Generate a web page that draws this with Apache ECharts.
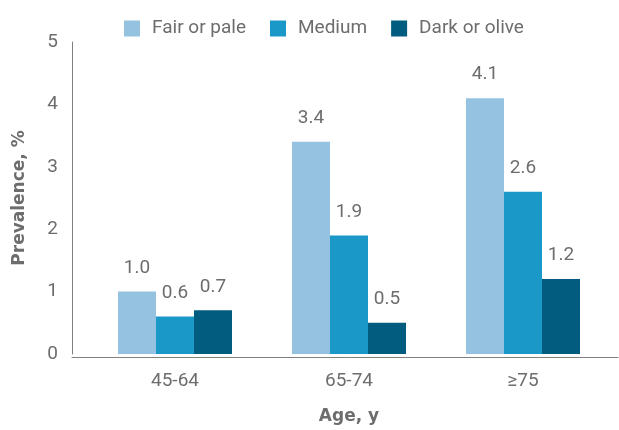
<!DOCTYPE html>
<html><head><meta charset="utf-8">
<script src="https://cdn.jsdelivr.net/npm/echarts@6/dist/echarts.min.js"></script>
<style>html,body{margin:0;padding:0;background:#fff}#c{width:619px;height:430px}</style>
</head><body><div id="c"></div>
<script>
const categories = ['45-64', '65-74', '≥75'];
const seriesNames = ['Fair or pale', 'Medium', 'Dark or olive'];
const fairValues = [1.0, 3.4, 4.1];
const mediumValues = [0.6, 1.9, 2.6];
const darkValues = [0.7, 0.5, 1.2];
const yTicks = [0, 1, 2, 3, 4, 5];
const colors = ['#94c2e0', '#1a98c8', '#015c80'];

const FONT = 'Roboto, "DejaVu Sans", sans-serif';
const BOLD = '"DejaVu Sans", sans-serif';
const TXT = '#6d6d6d';
const values = [fairValues, mediumValues, darkValues];

const chart = echarts.init(document.getElementById('c'), null, {renderer: 'canvas'});
chart.setOption({
  animation: false,
  backgroundColor: '#fff',
  color: colors,
  legend: {
    left: 119, top: 14,
    itemWidth: 16, itemHeight: 16, itemGap: 24,
    icon: 'rect',
    textStyle: {fontFamily: FONT, fontSize: 19, color: TXT, padding: [0, 0, 0, 7]},
    data: seriesNames
  },
  grid: [
    {left: 88, right: 9, top: 42, bottom: 73},
    {left: 72, right: 1, top: 42, bottom: 73}
  ],
  xAxis: [{
    type: 'category', data: categories, gridIndex: 0,
    axisLine: {show: false}, axisTick: {show: false},
    axisLabel: {fontFamily: FONT, fontSize: 19, color: TXT, margin: 18},
    name: 'Age, y', nameLocation: 'middle', nameGap: 54,
    nameTextStyle: {fontFamily: BOLD, fontWeight: 'bold', fontSize: 17, color: TXT}
  }, {
    type: 'value', gridIndex: 1, min: 0, max: 1,
    axisLine: {show: true, lineStyle: {color: '#808080', width: 1}},
    axisTick: {show: false}, axisLabel: {show: false}, splitLine: {show: false}
  }],
  yAxis: [{
    type: 'value', gridIndex: 0, min: yTicks[0], max: yTicks[yTicks.length - 1], interval: 1,
    offset: 16,
    axisLine: {show: true, lineStyle: {color: '#808080', width: 1}},
    axisTick: {show: false}, splitLine: {show: false},
    axisLabel: {fontFamily: FONT, fontSize: 19, color: TXT, margin: 14},
    name: 'Prevalence, %', nameLocation: 'middle', nameGap: 44,
    nameTextStyle: {fontFamily: BOLD, fontWeight: 'bold', fontSize: 17, color: TXT}
  }, {
    type: 'value', gridIndex: 1, show: false, min: 0, max: 1
  }],
  series: seriesNames.map((n, i) => ({
    name: n, type: 'bar', xAxisIndex: 0, yAxisIndex: 0,
    data: values[i], barWidth: 38, barGap: '0%',
    itemStyle: {color: colors[i]},
    label: {show: true, position: 'top', distance: 14, fontFamily: FONT, fontSize: 19, color: TXT,
      formatter: p => p.value.toFixed(1)}
  }))
});
</script></body></html>
